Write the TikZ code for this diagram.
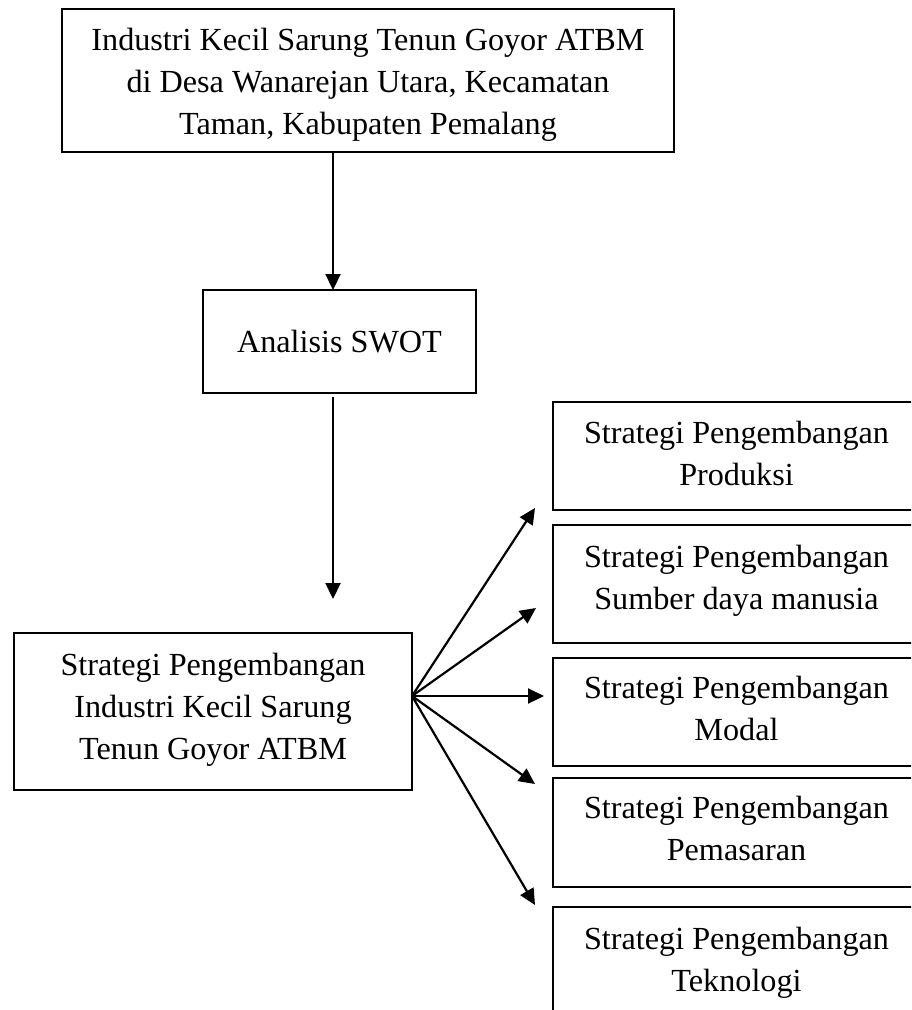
\documentclass[tikz,border=0pt]{standalone}
\usepackage{fontspec}
\setmainfont{Liberation Serif}
\usetikzlibrary{arrows.meta}
\newcommand\mvlines[2]{\raisebox{#1}[\height][\depth]{\begin{tabular}{@{}c@{}}#2\end{tabular}}}
\begin{document}
\begin{tikzpicture}[x=1pt,y=-1pt,
  box/.style={draw=black, line width=2.2pt, align=center, inner sep=0pt,
    font=\fontsize{32.2}{42}\selectfont},
  arr/.style={line width=2.2pt, -{Triangle[length=16pt,width=15pt]}}]
\clip (0,0) rectangle (911,1010);
\fill[white] (0,0) rectangle (911,1010);
% main column
\node[box, minimum width=612pt, minimum height=143pt] (top) at (368,80.5)
  {\mvlines{-4pt}{Industri Kecil Sarung Tenun Goyor ATBM\\di Desa Wanarejan Utara, Kecamatan\\Taman, Kabupaten Pemalang}};
\node[box, minimum width=273pt, minimum height=103pt] (swot) at (339.5,341.5)
  {Analisis SWOT};
\node[box, minimum width=398pt, minimum height=157pt] (left) at (213,711.5)
  {\mvlines{2pt}{Strategi Pengembangan\\Industri Kecil Sarung\\Tenun Goyor ATBM}};
% right column
\node[box, minimum width=367pt, minimum height=108pt] (r1) at (736.5,456)
  {\mvlines{0pt}{Strategi Pengembangan\\Produksi}};
\node[box, minimum width=367pt, minimum height=118pt] (r2) at (736.5,584)
  {\mvlines{4pt}{Strategi Pengembangan\\Sumber daya manusia}};
\node[box, minimum width=367pt, minimum height=108pt] (r3) at (736.5,712)
  {\mvlines{1pt}{Strategi Pengembangan\\Modal}};
\node[box, minimum width=367pt, minimum height=109pt] (r4) at (736.5,832.5)
  {\mvlines{1pt}{Strategi Pengembangan\\Pemasaran}};
\node[box, minimum width=367pt, minimum height=110pt] (r5) at (736.5,962)
  {\mvlines{0pt}{Strategi Pengembangan\\Teknologi}};
% connector end points
\coordinate (a1s) at (333,152);
\coordinate (a1e) at (333,290);
\coordinate (a2s) at (333,397);
\coordinate (a2e) at (333,599);
\coordinate (fan) at (412,696);
\coordinate (t1) at (535,508);
\coordinate (t2) at (536,608);
\coordinate (t3) at (544,696);
\coordinate (t4) at (535,784);
\coordinate (t5) at (535,905);
\draw[arr] (a1s) -- (a1e);
\draw[arr] (a2s) -- (a2e);
\draw[arr] (fan) -- (t1);
\draw[arr] (fan) -- (t2);
\draw[arr] (fan) -- (t3);
\draw[arr] (fan) -- (t4);
\draw[arr] (fan) -- (t5);
\end{tikzpicture}
\end{document}
